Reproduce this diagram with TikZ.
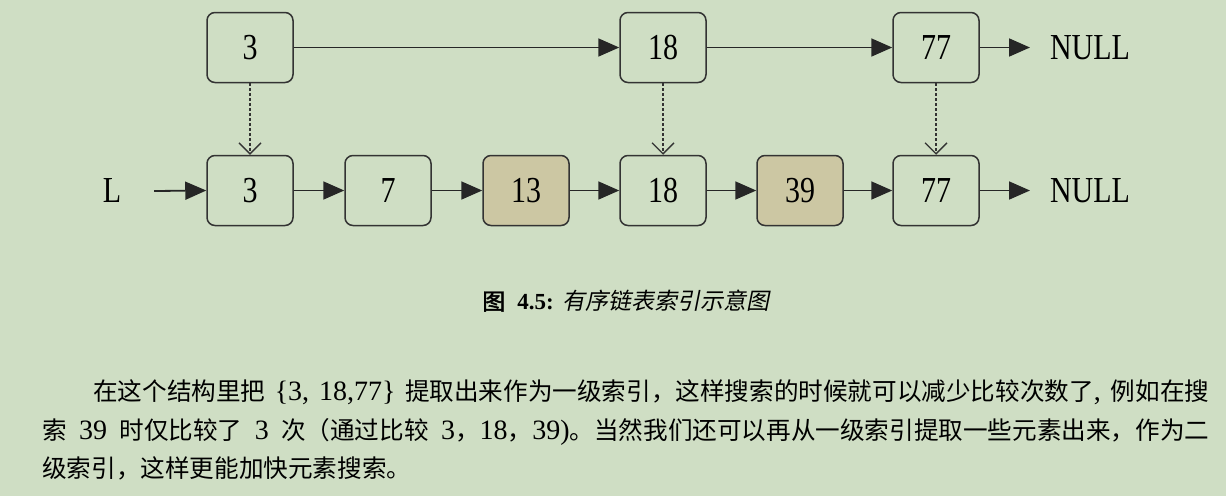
\documentclass[tikz,border=0pt]{standalone}
\usepackage{fontspec}
\setmainfont{Liberation Serif}
\newfontfamily\cjk{Noto Sans CJK SC}
\newfontfamily\cjkit[FakeSlant=0.2]{Noto Sans CJK SC}
\newfontfamily\cjkbf[FakeBold=2]{Noto Sans CJK SC}
\usetikzlibrary{arrows.meta}
\definecolor{paper}{RGB}{207,222,196}
\definecolor{marked}{RGB}{204,199,163}
\definecolor{ink}{RGB}{51,51,51}
% digits in the list are drawn a little taller than wide
\newcommand{\tallt}[1]{\scalebox{1}[1.22]{#1}}
% Chinese run inside the explanation text
\newcommand{\zh}[1]{{\cjk\fontsize{24.6}{26}\selectfont #1}}
\tikzset{
  cell/.style={draw=ink, line width=1.5pt, rounded corners=8pt, fill=paper,
    minimum width=86pt, minimum height=70pt, inner sep=0pt,
    font=\fontsize{30}{30}\selectfont},
  hotcell/.style={cell, fill=marked},
  label/.style={inner sep=0pt, font=\fontsize{30}{30}\selectfont},
  link/.style={draw=black!85, line width=1.8pt, -{Triangle[length=21pt,width=18pt]}},
  down/.style={draw=ink, line width=1.3pt, dash pattern=on 3pt off 2pt,
    -{Straight Barb[length=11pt,width=22pt]}},
  textline/.style={inner sep=0pt, anchor=base west,
    font=\fontsize{28}{28}\selectfont},
}
\begin{document}
\begin{tikzpicture}[x=1pt,y=-1pt]
  \useasboundingbox (0,0) rectangle (1226,496);
  \fill[paper] (0,0) rectangle (1226,496);

  % index level
  \node[cell] (t3)  at (250,47.5) {\tallt{3}};
  \node[cell] (t18) at (663,47.5) {\tallt{18}};
  \node[cell] (t77) at (936,47.5) {\tallt{77}};
  \node[label, anchor=west, outer xsep=20pt] (tnull) at (1030,47.5) {\tallt{NULL}};

  % base list
  \node[label, outer xsep=33pt] (head) at (112,191) {\tallt{L}};
  \node[cell]    (b3)  at (250,190.5) {\tallt{3}};
  \node[cell]    (b7)  at (388,190.5) {\tallt{7}};
  \node[hotcell] (b13) at (526,190.5) {\tallt{13}};
  \node[cell]    (b18) at (663,190.5) {\tallt{18}};
  \node[hotcell] (b39) at (800,190.5) {\tallt{39}};
  \node[cell]    (b77) at (936,190.5) {\tallt{77}};
  \node[label, anchor=west, outer xsep=20pt] (bnull) at (1030,190.5) {\tallt{NULL}};

  \draw[link] (t3.east) -- (t18.west);
  \draw[link] (t18.east) -- (t77.west);
  \draw[link] (t77.east) -- (tnull.west);

  \draw[link] (head.east) -- (b3.west);
  \draw[link] (b3.east) -- (b7.west);
  \draw[link] (b7.east) -- (b13.west);
  \draw[link] (b13.east) -- (b18.west);
  \draw[link] (b18.east) -- (b39.west);
  \draw[link] (b39.east) -- (b77.west);
  \draw[link] (b77.east) -- (bnull.west);

  \draw[down] (t3.south) -- (b3.north);
  \draw[down] (t18.south) -- (b18.north);
  \draw[down] (t77.south) -- (b77.north);

  % caption
  \node[inner sep=0pt, font=\fontsize{23}{23}\selectfont] (cap) at (626,301)
    {{\cjkbf 图}\hspace{12pt}\textbf{4.5:}\hspace{9pt}{\cjkit 有序链表索引示意图}};

  % explanation
  \node[textline] (p1) at (93,400) {\hbox to 1116pt{\zh{在这个结构里把} \{3, 18,77\} \zh{提取出来作为一级索引，这样搜索的时候就可以减少比较次数了}, \zh{例如在搜}}};
  \node[textline] (p2) at (42,439) {\hbox to 1167pt{\zh{索} 39 \zh{时仅比较了} 3 \zh{次（通过比较} 3\zh{，}18\zh{，}39)\zh{。当然我们还可以再从一级索引提取一些元素出来，作为二}}};
  \node[textline] (p3) at (42,477) {\zh{级索引，这样更能加快元素搜索。}};
\end{tikzpicture}
\end{document}
